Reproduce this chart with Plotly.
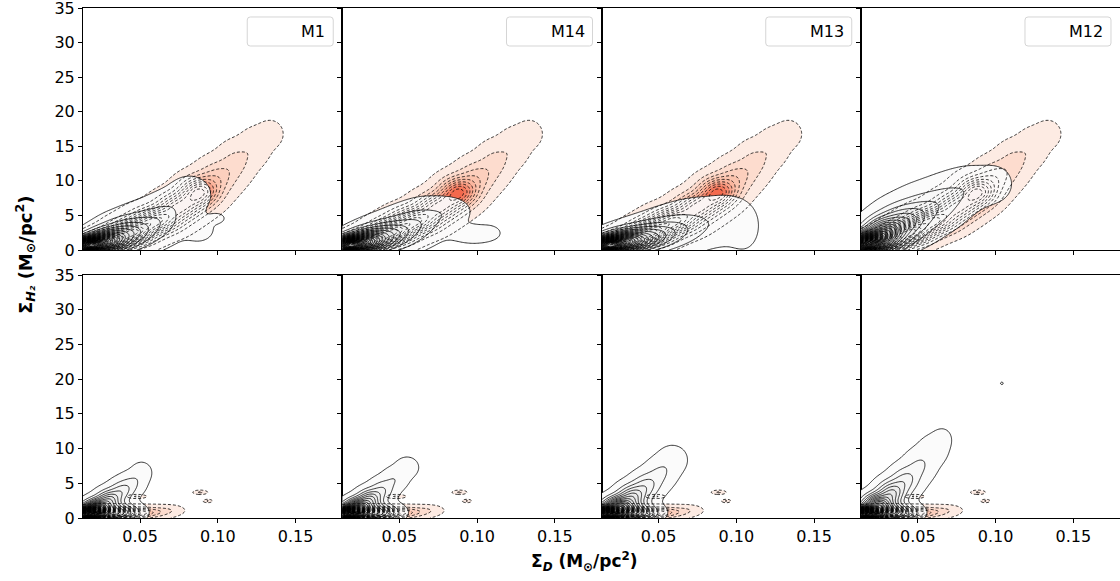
import numpy as np
import plotly.graph_objects as go
from plotly.subplots import make_subplots

MODELS = ["M1", "M14", "M13", "M12"]
X_RANGE = [0.0133, 0.18]
Y_RANGE = [0, 35]
X_TICKS = [0.05, 0.10, 0.15]
Y_TICKS = [0, 5, 10, 15, 20, 25, 30, 35]

# KDE kernels: (centre x, centre y, width x, width y, weight)
RED_TOP = [
    (0.018, 0.5, 0.006, 0.7, 10.0),
    (0.030, 1.2, 0.008, 0.9, 7.0),
    (0.045, 2.5, 0.009, 1.1, 5.5),
    (0.060, 4.2, 0.010, 1.2, 4.3),
    (0.075, 6.2, 0.009, 1.3, 3.3),
    (0.088, 8.3, 0.008, 1.4, 4.0),
    (0.100, 10.5, 0.008, 1.6, 1.2),
    (0.112, 12.8, 0.007, 1.7, 0.7),
    (0.124, 15.0, 0.006, 1.6, 0.45),
    (0.134, 16.8, 0.005, 1.2, 0.35),
]
RED_BOTTOM = [
    (0.018, 0.4, 0.006, 0.5, 12.0),
    (0.030, 0.6, 0.008, 0.5, 6.0),
    (0.045, 0.7, 0.009, 0.5, 2.5),
    (0.060, 0.9, 0.008, 0.5, 0.8),
    (0.070, 1.2, 0.005, 0.4, 0.25),
    (0.048, 3.1, 0.0032, 0.15, 0.7),
    (0.0887, 3.7, 0.0024, 0.16, 0.7),
    (0.0935, 2.45, 0.0015, 0.12, 0.7),
]
M1_TOP = [
    (0.018, 0.7, 0.006, 0.7, 12.0),
    (0.028, 1.3, 0.008, 1.0, 5.0),
    (0.040, 2.3, 0.010, 1.4, 2.2),
    (0.055, 3.6, 0.011, 1.7, 1.0),
    (0.068, 5.5, 0.009, 1.8, 0.45),
    (0.082, 8.0, 0.008, 1.6, 0.4),
    (0.088, 3.0, 0.007, 1.3, 0.22),
    (0.100, 4.6, 0.004, 0.6, 0.15),
]
M14_TOP = [
    (0.018, 0.7, 0.006, 0.7, 12.0),
    (0.028, 1.2, 0.008, 1.0, 5.0),
    (0.040, 2.0, 0.010, 1.3, 2.2),
    (0.055, 3.2, 0.011, 1.6, 1.0),
    (0.068, 4.8, 0.010, 1.6, 0.5),
    (0.083, 5.6, 0.008, 1.2, 0.3),
    (0.098, 2.3, 0.010, 0.9, 0.3),
    (0.108, 2.6, 0.004, 0.6, 0.12),
]
M13_TOP = [
    (0.018, 0.7, 0.006, 0.7, 12.0),
    (0.028, 1.2, 0.009, 1.0, 5.0),
    (0.042, 1.8, 0.011, 1.3, 2.2),
    (0.058, 2.8, 0.012, 1.6, 1.0),
    (0.075, 4.0, 0.013, 2.0, 0.45),
    (0.095, 4.5, 0.010, 2.2, 0.25),
    (0.105, 3.0, 0.006, 2.0, 0.2),
]
M12_TOP = [
    (0.018, 1.0, 0.006, 0.9, 12.0),
    (0.028, 2.2, 0.008, 1.4, 5.0),
    (0.040, 3.9, 0.010, 1.7, 2.2),
    (0.055, 5.8, 0.011, 1.9, 1.0),
    (0.070, 7.6, 0.010, 1.9, 0.5),
    (0.085, 9.2, 0.010, 1.8, 0.35),
    (0.100, 9.6, 0.007, 1.6, 0.25),
]
M1_BOTTOM = [
    (0.016, 0.6, 0.005, 0.6, 12.0),
    (0.035, 0.8, 0.008, 0.8, 3.0),
    (0.022, 1.4, 0.005, 0.8, 5.0),
    (0.030, 2.6, 0.005, 0.9, 2.5),
    (0.038, 3.8, 0.005, 1.0, 1.2),
    (0.045, 5.0, 0.005, 1.0, 0.6),
    (0.051, 6.6, 0.004, 0.9, 0.35),
]
M14_BOTTOM = [
    (0.016, 0.6, 0.005, 0.6, 12.0),
    (0.035, 0.8, 0.008, 0.8, 3.0),
    (0.023, 1.5, 0.005, 0.8, 5.0),
    (0.031, 2.7, 0.005, 0.9, 2.5),
    (0.039, 4.0, 0.005, 1.0, 1.0),
    (0.047, 5.6, 0.005, 1.0, 0.5),
    (0.055, 7.3, 0.005, 1.0, 0.3),
]
M13_BOTTOM = [
    (0.016, 0.6, 0.005, 0.6, 12.0),
    (0.035, 0.8, 0.008, 0.8, 3.0),
    (0.024, 1.6, 0.006, 0.9, 5.0),
    (0.033, 3.0, 0.006, 1.1, 2.5),
    (0.042, 4.6, 0.006, 1.2, 1.2),
    (0.051, 6.4, 0.006, 1.3, 0.6),
    (0.059, 8.4, 0.006, 1.3, 0.35),
]
M12_BOTTOM = [
    (0.016, 0.6, 0.005, 0.6, 12.0),
    (0.035, 0.8, 0.008, 0.8, 3.0),
    (0.024, 1.8, 0.006, 1.0, 5.0),
    (0.033, 3.5, 0.006, 1.2, 2.5),
    (0.042, 5.4, 0.006, 1.3, 1.2),
    (0.051, 7.5, 0.006, 1.4, 0.6),
    (0.060, 9.8, 0.006, 1.4, 0.35),
    (0.066, 11.5, 0.004, 1.0, 0.2),
    (0.104, 19.4, 0.0015, 0.3, 0.12),
]
SIM_TOP = [M1_TOP, M14_TOP, M13_TOP, M12_TOP]
SIM_BOTTOM = [M1_BOTTOM, M14_BOTTOM, M13_BOTTOM, M12_BOTTOM]

# ---- density grid -------------------------------------------------------
gx = np.linspace(X_RANGE[0], X_RANGE[1], 200)
gy = np.linspace(Y_RANGE[0], Y_RANGE[1], 351)
GX, GY = np.meshgrid(gx, gy)


def density(kernels):
    d = np.zeros_like(GX)
    for cx, cy, sx, sy, w in kernels:
        d += w * np.exp(-0.5 * (((GX - cx) / sx) ** 2 + ((GY - cy) / sy) ** 2))
    return np.round(d, 3)


LEV_START = 0.1
LEV_SIZE = 0.5
LEV_END = 14.0
NC = int(np.floor((LEV_END + LEV_SIZE * 1e-6 - LEV_START) / LEV_SIZE)) + 1


def hex_rgb(h):
    h = h.lstrip('#')
    return [int(h[i:i + 2], 16) for i in (0, 2, 4)]


def band_scale(stops):
    # stops: list of (density value, (r,g,b,a)); band k colour taken at its mid value
    scale = [[0.0, 'rgba(255,255,255,0)']]
    vals = [s[0] for s in stops]
    for k in range(1, NC + 1):
        v = LEV_START + (k - 1) * LEV_SIZE + LEV_SIZE / 2
        c = [float(np.interp(v, vals, [s[1][j] for s in stops])) for j in range(4)]
        scale.append([k / NC, 'rgba(%d,%d,%d,%.3f)' % (c[0], c[1], c[2], c[3])])
    return scale


RED_SCALE = band_scale([
    (0.3, (*hex_rgb('#feede6'), 1)),
    (1.0, (*hex_rgb('#fdd8c8'), 1)),
    (2.5, (*hex_rgb('#fbb39a'), 1)),
    (4.2, (*hex_rgb('#f46a4e'), 1)),
    (14.0, (*hex_rgb('#d8402f'), 1)),
])
GREY_SCALE = band_scale([
    (0.3, (252, 252, 252, 0.95)),
    (2.0, (240, 240, 240, 0.9)),
    (6.0, (205, 205, 205, 0.75)),
    (14.0, (160, 160, 160, 0.6)),
])

fig = make_subplots(rows=2, cols=4, horizontal_spacing=0, vertical_spacing=0.05)

for row, (red, sims) in enumerate([(RED_TOP, SIM_TOP), (RED_BOTTOM, SIM_BOTTOM)], start=1):
    zr = density(red)
    for col in range(1, 5):
        zs = density(sims[col - 1])
        fig.add_trace(go.Contour(
            x=gx, y=gy, z=zr, autocontour=False,
            contours=dict(start=LEV_START, end=LEV_END, size=LEV_SIZE,
                          coloring='fill', showlines=False),
            colorscale=RED_SCALE, showscale=False, hoverinfo='skip',
            line=dict(width=0)), row=row, col=col)
        fig.add_trace(go.Contour(
            x=gx, y=gy, z=zs, autocontour=False,
            contours=dict(start=LEV_START, end=LEV_END, size=LEV_SIZE,
                          coloring='fill', showlines=True),
            colorscale=GREY_SCALE, showscale=False, hoverinfo='skip',
            line=dict(color='black', width=0.8, smoothing=1)), row=row, col=col)
        fig.add_trace(go.Contour(
            x=gx, y=gy, z=zr, autocontour=False,
            contours=dict(start=LEV_START, end=LEV_END, size=LEV_SIZE,
                          coloring='none', showlines=True),
            showscale=False, hoverinfo='skip',
            line=dict(color='black', width=0.8, dash='3px,2px', smoothing=1)),
            row=row, col=col)

# ---- axes & layout ------------------------------------------------------
W, H = 1120, 581
ML, MR, MT, MB = 83, 0, 8, 63
PW = W - ML - MR
PH = H - MT - MB
top_dom = [(H - MB - 250) / PH, 1.0]
bot_dom = [0.0, (H - MB - 275) / PH]

FAMILY = 'DejaVu Sans'
font = dict(family=FAMILY, size=16, color='black')
axis_common = dict(showline=True, linecolor='black', linewidth=1, mirror=True,
                   ticks='outside', ticklen=4, tickwidth=1, tickcolor='black',
                   showgrid=False, zeroline=False, tickfont=font,
                   ticklabeloverflow='allow')

for row in (1, 2):
    for col in range(1, 5):
        fig.update_xaxes(range=X_RANGE, tickvals=X_TICKS, tickformat='.2f',
                         domain=[(col - 1) / 4, col / 4],
                         showticklabels=(row == 2), **axis_common, row=row, col=col)
        fig.update_yaxes(range=[Y_RANGE[0], Y_RANGE[1] + 0.01], tickvals=Y_TICKS,
                         domain=top_dom if row == 1 else bot_dom,
                         showticklabels=(col == 1), **axis_common, row=row, col=col)

shapes = []
annotations = []
pw_col = PW / 4
ph_top = (top_dom[1] - top_dom[0]) * PH
bw, bh = 86 / pw_col, 29 / ph_top
rx, ry = 3 / pw_col, 3 / ph_top
for col in range(1, 5):
    xr = 'x%s domain' % ('' if col == 1 else col)
    yr = 'y%s domain' % ('' if col == 1 else col)
    x1 = 1 - 9 / pw_col
    y1 = 1 - 9 / ph_top
    x0 = x1 - bw
    y0 = y1 - bh
    path = ('M %f,%f L %f,%f Q %f,%f %f,%f L %f,%f Q %f,%f %f,%f L %f,%f Q %f,%f %f,%f '
            'L %f,%f Q %f,%f %f,%f Z') % (
        x0 + rx, y0, x1 - rx, y0, x1, y0, x1, y0 + ry, x1, y1 - ry, x1, y1, x1 - rx, y1,
        x0 + rx, y1, x0, y1, x0, y1 - ry, x0, y0 + ry, x0, y0, x0 + rx, y0)
    shapes.append(dict(type='path', path=path, xref=xr, yref=yr,
                       line=dict(color='#d5d5d5', width=1), fillcolor='rgba(255,255,255,0.8)',
                       layer='above'))
    annotations.append(dict(text=MODELS[col - 1], xref=xr, yref=yr,
                            x=x1 - 6 / pw_col, y=(y0 + y1) / 2,
                            xanchor='right', yanchor='middle', showarrow=False, font=font))

annotations.append(dict(
    text='<b>Σ<sub><i>H₂</i></sub> (M<sub>⊙</sub>/pc<sup>2</sup>)</b>',
    xref='paper', yref='paper', x=(25 - ML) / PW, y=(H - MB - 255) / PH,
    textangle=-90, showarrow=False, xanchor='center', yanchor='middle',
    font=dict(family=FAMILY, size=18, color='black')))
annotations.append(dict(
    text='<b>Σ<sub><i>D</i></sub> (M<sub>⊙</sub>/pc<sup>2</sup>)</b>',
    xref='paper', yref='paper', x=(584 - ML) / PW, y=(H - MB - 561) / PH,
    showarrow=False, xanchor='center', yanchor='middle',
    font=dict(family=FAMILY, size=17, color='black')))

fig.update_layout(width=W, height=H, margin=dict(l=ML, r=MR, t=MT, b=MB),
                  paper_bgcolor='white', plot_bgcolor='white', showlegend=False,
                  font=font, shapes=shapes, annotations=annotations)

fig.write_html("out.html")
